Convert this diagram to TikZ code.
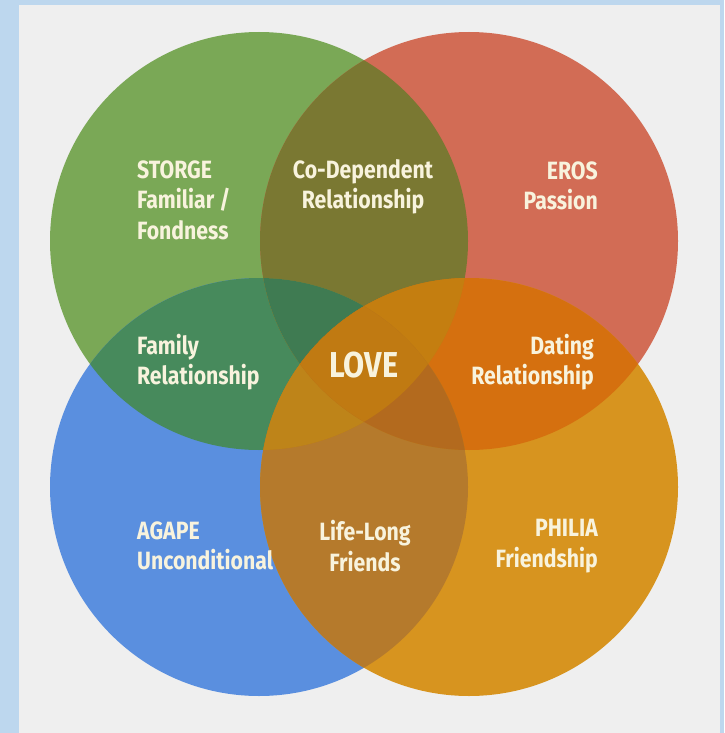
\documentclass[tikz,border=0pt]{standalone}
\usepackage{fontspec}
\newfontfamily\labfont{Fira Sans}[FakeStretch=0.85]
\definecolor{bordercol}{HTML}{BDD7EE}
\definecolor{bgcol}{HTML}{EFEFEF}
\definecolor{cG}{HTML}{7AA856}
\definecolor{cR}{HTML}{D26C55}
\definecolor{cB}{HTML}{5A8FDF}
\definecolor{cO}{HTML}{D7941F}
\definecolor{cGR}{HTML}{7A7832}
\definecolor{cGB}{HTML}{478A5C}
\definecolor{cRO}{HTML}{D5700F}
\definecolor{cBO}{HTML}{B57A2C}
\definecolor{cGRB}{HTML}{3F7B52}
\definecolor{cGRO}{HTML}{C47E10}
\definecolor{cGBO}{HTML}{BE8419}
\definecolor{cRBO}{HTML}{B36A1E}
\definecolor{cGRBO}{HTML}{C07A12}
\definecolor{txtcol}{HTML}{F8F3DD}
\newcommand\cirG{(259,241) circle[radius=209pt]}
\newcommand\cirR{(469,241) circle[radius=209pt]}
\newcommand\cirB{(259,487) circle[radius=209pt]}
\newcommand\cirO{(469,487) circle[radius=209pt]}
\tikzset{
  lab/.style={text=txtcol, font=\labfont\bfseries\fontsize{25}{30.5}\selectfont, inner sep=0pt},
  big/.style={text=txtcol, font=\labfont\bfseries\fontsize{36}{40}\selectfont, inner sep=0pt}
}
\begin{document}
\begin{tikzpicture}[x=1pt,y=-1pt]
\useasboundingbox (0,0) rectangle (724,733);
\fill[bordercol] (0,0) rectangle (724,733);
\fill[bgcol] (19,5) rectangle (720,733);
% single circles
\fill[cG] \cirG;
\fill[cR] \cirR;
\fill[cB] \cirB;
\fill[cO] \cirO;
% pairs
\begin{scope}\clip \cirG; \fill[cGR] \cirR; \end{scope}
\begin{scope}\clip \cirG; \fill[cGB] \cirB; \end{scope}
\begin{scope}\clip \cirR; \fill[cRO] \cirO; \end{scope}
\begin{scope}\clip \cirB; \fill[cBO] \cirO; \end{scope}
\begin{scope}\clip \cirG; \fill[cGRBO] \cirO; \end{scope}
\begin{scope}\clip \cirR; \fill[cGRBO] \cirB; \end{scope}
% triples
\begin{scope}\clip \cirG; \clip \cirR; \fill[cGRB] \cirB; \end{scope}
\begin{scope}\clip \cirG; \clip \cirR; \fill[cGRO] \cirO; \end{scope}
\begin{scope}\clip \cirG; \clip \cirB; \fill[cGBO] \cirO; \end{scope}
\begin{scope}\clip \cirR; \clip \cirB; \fill[cRBO] \cirO; \end{scope}
% quadruple
\begin{scope}\clip \cirG; \clip \cirR; \clip \cirB; \fill[cGRBO] \cirO; \end{scope}
% labels
\node[lab, anchor=west, align=left] (storge) at (137,200) {STORGE\\Familiar /\\Fondness};
\node[lab, align=center] (codep) at (363,187) {Co-Dependent\\Relationship};
\node[lab, anchor=east, align=right] (eros) at (598,186) {EROS\\Passion};
\node[lab, anchor=west, align=left] (family) at (137,362) {Family\\Relationship};
\node[big] (love) at (364,365) {LOVE};
\node[lab, anchor=east, align=right] (dating) at (594,362) {Dating\\Relationship};
\node[lab, anchor=west, align=left] (agape) at (137,546) {AGAPE\\Unconditional};
\node[lab, align=center] (lifelong) at (365,546) {Life-Long\\Friends};
\node[lab, anchor=east, align=right] (philia) at (598,546) {PHILIA\\Friendship};
\end{tikzpicture}
\end{document}
